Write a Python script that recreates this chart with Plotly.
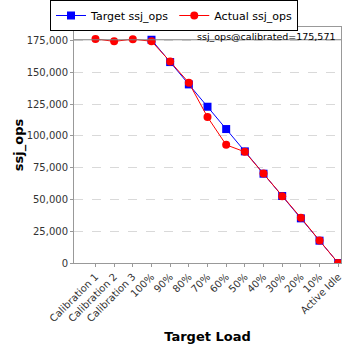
import plotly.graph_objects as go

categories = ["Calibration 1", "Calibration 2", "Calibration 3", "100%", "90%", "80%",
              "70%", "60%", "50%", "40%", "30%", "20%", "10%", "Active Idle"]
target_ops = [None, None, None, 175571, 158014, 140457, 122900, 105343, 87786,
              70228, 52671, 35114, 17557, 0]
actual_ops = [176200, 174300, 176000, 174400, 158400, 141800, 114800, 92900, 87400,
              70300, 52500, 35600, 17600, 0]
calibrated = 175571
y_ticks = [0, 25000, 50000, 75000, 100000, 125000, 150000, 175000]

x_idx = list(range(len(categories)))
font = "DejaVu Sans"

fig = go.Figure()
fig.add_trace(go.Scatter(x=x_idx, y=target_ops, name="Target ssj_ops", mode="lines+markers",
                         line=dict(color="#0000ff", width=1),
                         marker=dict(symbol="square", size=8, color="#0000ff")))
fig.add_trace(go.Scatter(x=x_idx, y=actual_ops, name="Actual ssj_ops", mode="lines+markers",
                         line=dict(color="#ff0000", width=1),
                         marker=dict(symbol="circle", size=8, color="#ff0000")))

fig.add_shape(type="line", xref="paper", x0=0, x1=1, yref="y", y0=calibrated, y1=calibrated,
              line=dict(color="#808080", width=1))
fig.add_annotation(xref="paper", yref="paper", x=1, y=1, xanchor="right", yanchor="top",
                   text="ssj_ops@calibrated=175,571", showarrow=False,
                   font=dict(family=font, size=9.5, color="#000000"), xshift=-3, yshift=-2)

fig.update_layout(
    width=348, height=348,
    margin=dict(l=74, r=7, t=27, b=85, autoexpand=False),
    paper_bgcolor="white", plot_bgcolor="white",
    font=dict(family=font, size=10, color="#333333"),
    showlegend=True,
    legend=dict(orientation="h", x=0.5, xanchor="center", xref="container",
                y=1.0, yref="container", yanchor="top",
                bordercolor="#000000", borderwidth=1,
                font=dict(family=font, size=11, color="#000000"),
                itemwidth=30, tracegroupgap=0, bgcolor="white"),
    xaxis=dict(range=[-1.15, 13.15], tickmode="array", tickvals=x_idx, ticktext=categories,
               tickangle=-45, showgrid=False, zeroline=False,
               showline=True, linecolor="#999999", mirror=True,
               ticks="outside", ticklen=3, tickcolor="#999999",
               tickfont=dict(family=font, size=10, color="#333333"),
               title=dict(text="<b>Target Load</b>", font=dict(family=font, size=13, color="#000000"),
                          standoff=8)),
    yaxis=dict(range=[0, 185600], tickmode="array", tickvals=y_ticks,
               tickformat=",d", showgrid=True, gridcolor="#d9d9d9", griddash="dash",
               zeroline=False, showline=True, linecolor="#999999", mirror=True,
               ticks="outside", ticklen=3, tickcolor="#999999",
               tickfont=dict(family=font, size=10, color="#333333"),
               title=dict(text="<b>ssj_ops</b>", font=dict(family=font, size=13, color="#000000"),
                          standoff=0)),
)

fig.write_html("out.html")
